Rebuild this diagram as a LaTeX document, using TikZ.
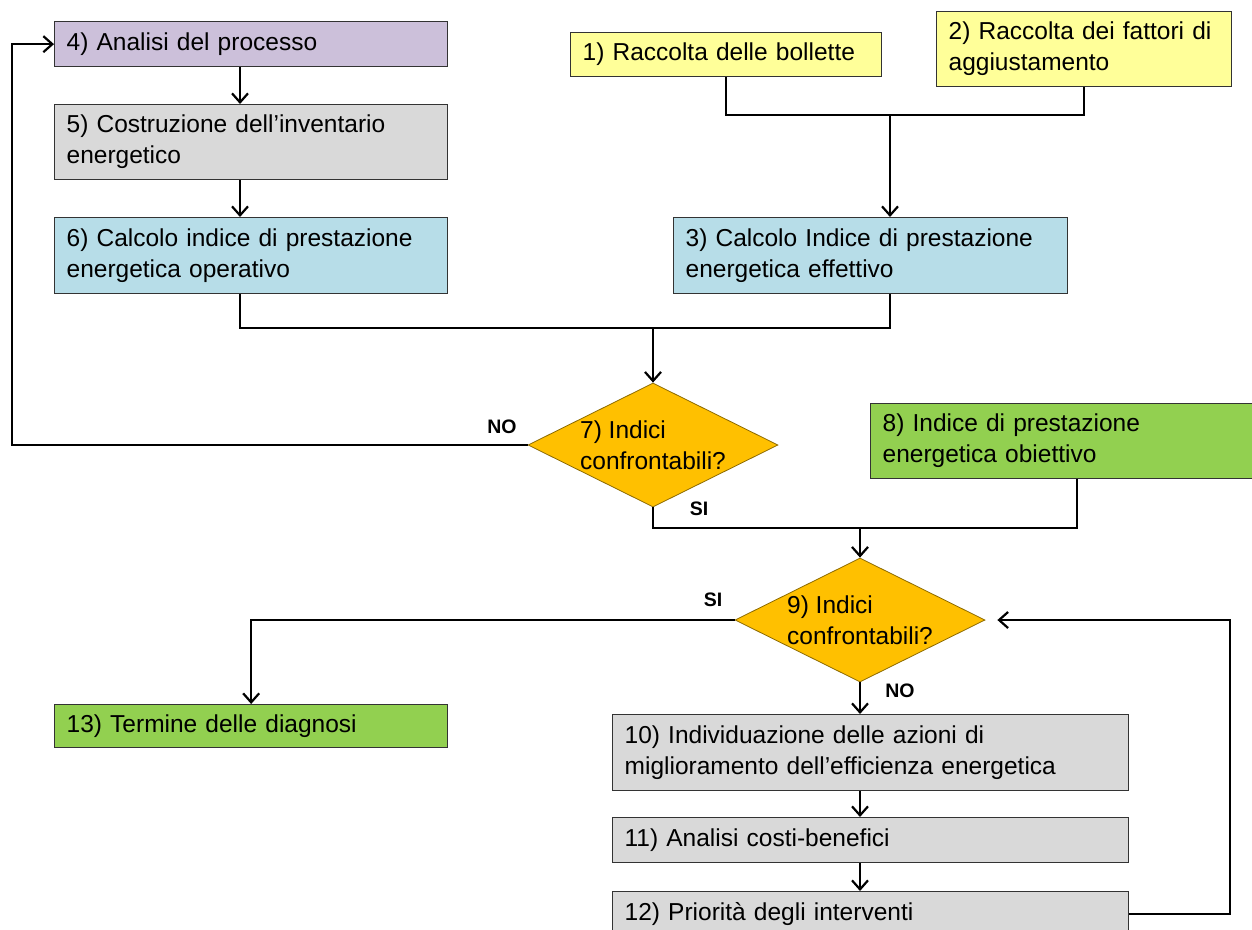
\documentclass[tikz,border=0pt]{standalone}
\usepackage{fontspec}
\setmainfont{Liberation Sans}
\usetikzlibrary{
	positioning,
	shapes.geometric,
	arrows.meta
}
\definecolor{viola}{HTML}{CCC0DA}
\definecolor{grigio}{HTML}{D9D9D9}
\definecolor{azzurro}{HTML}{B7DDE8}
\definecolor{giallo}{HTML}{FFFF99}
\definecolor{verde}{HTML}{92D050}
\definecolor{arancio}{HTML}{FFC000}
\newcommand{\testo}{\fontsize{24.5}{31}\selectfont}

\begin{document}
\begin{tikzpicture}[x=1pt,y=-1pt,
		blocco/.style={rectangle, draw=black!80, line width=1.3pt, anchor=north west,
			align=left, inner xsep=12pt, inner ysep=0pt, font=\testo},
		rombo/.style={diamond, aspect=2, draw=black!45!arancio, line width=0.8pt, fill=arancio,
			inner sep=0pt, minimum width=250pt, minimum height=124pt, align=left, font=\testo},
		linea/.style={line width=2.2pt},
		freccia/.style={linea, -{Straight Barb[length=9pt,width=16pt]}},
		etichetta/.style={font=\fontsize{19.5}{21}\selectfont\bfseries}
	]
		\useasboundingbox (0,0) rectangle (1252,929);

		% colonna di sinistra
		\node[blocco, fill=viola, text width=369pt, minimum height=45pt] (analisi) at (54,21) {4) Analisi del processo};
		\node[blocco, fill=grigio, text width=369pt, minimum height=75pt] (inventario) at (54,104) {5) Costruzione dell’inventario\\energetico};
		\node[blocco, fill=azzurro, text width=369pt, minimum height=76pt] (operativo) at (54,217) {6) Calcolo indice di prestazione\\energetica operativo};

		% colonna di destra
		\node[blocco, fill=giallo, text width=287pt, minimum height=44pt] (bollette) at (570,32) {1) Raccolta delle bollette};
		\node[blocco, fill=giallo, text width=271pt, minimum height=75pt] (fattori) at (936,11) {2) Raccolta dei fattori di\\aggiustamento};
		\node[blocco, fill=azzurro, text width=370pt, minimum height=76pt] (effettivo) at (673,217) {3) Calcolo Indice di prestazione\\energetica effettivo};

		% confronti
		\node[rombo] (confronto1) at (653,445) {7) Indici\\confrontabili?};
		\node[blocco, fill=verde, text width=366pt, minimum height=75pt] (obiettivo) at (870,403) {8) Indice di prestazione\\energetica obiettivo};
		\node[rombo] (confronto2) at (860,620) {9) Indici\\confrontabili?};

		% esito
		\node[blocco, fill=verde, text width=369pt, minimum height=43pt] (termine) at (54,704) {13) Termine delle diagnosi};
		\node[blocco, fill=grigio, text width=492pt, minimum height=76pt] (azioni) at (612,714) {10) Individuazione delle azioni di\\miglioramento dell’efficienza energetica};
		\node[blocco, fill=grigio, text width=492pt, minimum height=45pt] (costi) at (612,817) {11) Analisi costi-benefici};
		\node[blocco, fill=grigio, text width=492pt, minimum height=45pt] (priorita) at (612,891) {12) Priorità degli interventi};

		\coordinate (colonna) at (240,0);
		\coordinate (colonna8) at (1077,0);
		\coordinate (sinistra) at (12,0);
		\coordinate (destra) at (1230,0);
		\coordinate (nodo1) at (890,115);
		\coordinate (nodo2) at (653,328);
		\coordinate (nodo3) at (860,528);

		\draw[freccia] (analisi.south -| colonna) -- (inventario.north -| colonna);
		\draw[freccia] (inventario.south -| colonna) -- (operativo.north -| colonna);
		\draw[linea] (bollette.south) |- (nodo1) -| (fattori.south);
		\draw[freccia] (nodo1) -- (effettivo.north -| nodo1);
		\draw[linea] (operativo.south -| colonna) |- (nodo2) -| (effettivo.south -| nodo1);
		\draw[freccia] (nodo2) -- (confronto1.north);
		\draw[freccia] (confronto1.west) -| (sinistra |- analisi.west) -- (analisi.west);
		\draw[linea] (confronto1.south) |- (nodo3) -| (obiettivo.south -| colonna8);
		\draw[freccia] (nodo3) -- (confronto2.north);
		\draw[freccia] (confronto2.west) -| (termine.north);
		\draw[freccia] (confronto2.south) -- (confronto2.south |- azioni.north);
		\draw[freccia] (azioni.south -| confronto2.south) -- (costi.north -| confronto2.south);
		\draw[freccia] (costi.south -| confronto2.south) -- (priorita.north -| confronto2.south);
		\draw[freccia] (priorita.east) -| (destra |- confronto2.east) -- ([xshift=12pt]confronto2.east);

		% etichette
		\node[etichetta] (no1) at (502,427) {NO};
		\node[etichetta] (si1) at (699,509) {SI};
		\node[etichetta] (si2) at (713,600) {SI};
		\node[etichetta] (no2) at (900,691) {NO};
	\end{tikzpicture}
\end{document}
